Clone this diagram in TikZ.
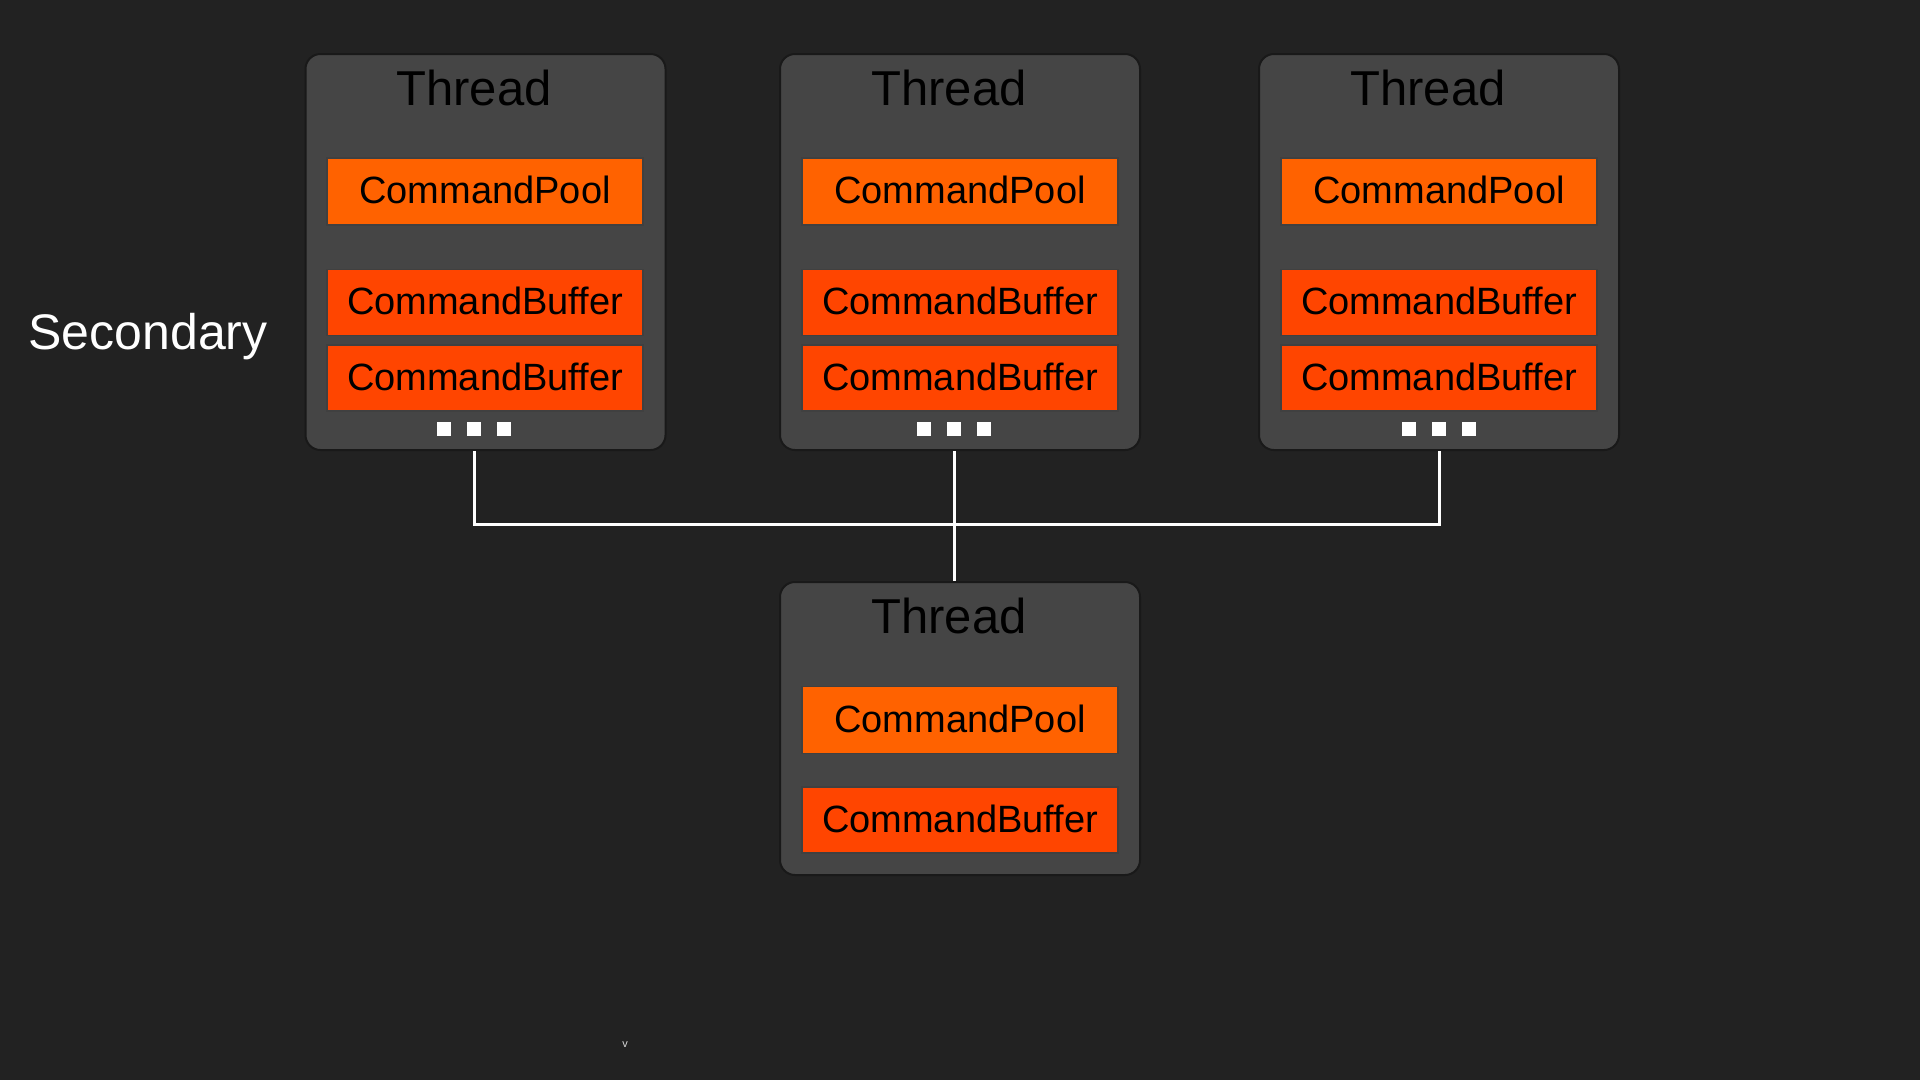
\documentclass[tikz,border=0pt]{standalone}
\usepackage{fontspec}
\setmainfont{Liberation Sans}
\begin{document}
\begin{tikzpicture}[x=1pt,y=-1pt,
  threadbox/.style={draw=black!90,line width=2pt,fill=threadgray,rounded corners=15pt,inner sep=0pt,minimum width=360pt},
  poolbox/.style={draw=black!75,line width=1.5pt,fill=poolorange,inner sep=0pt,minimum width=316pt,minimum height=67pt,font=\fontsize{38}{40}\selectfont,text=black,text depth=3pt},
  bufbox/.style={draw=black!75,line width=1.5pt,fill=buforange,inner sep=0pt,minimum width=316pt,minimum height=66pt,font=\fontsize{38}{40}\selectfont,text=black,text depth=3pt},
  titletext/.style={font=\fontsize{49}{52}\selectfont,text=black,anchor=base,inner sep=0pt},
  dotsq/.style={fill=white,inner sep=0pt,minimum size=14pt},
  conn/.style={draw=white,line width=3pt}]
\definecolor{bg}{HTML}{222222}
\definecolor{threadgray}{HTML}{454545}
\definecolor{poolorange}{HTML}{FF6200}
\definecolor{buforange}{HTML}{FF4500}
\fill[bg] (0,0) rectangle (1920,1080);
\useasboundingbox (0,0) rectangle (1920,1080);

% thread boxes
\node[threadbox,minimum height=396pt] (t1) at (485.5,252) {};
\node[threadbox,minimum height=396pt] (t2) at (960,252) {};
\node[threadbox,minimum height=396pt] (t3) at (1439,252) {};
\node[threadbox,minimum height=293pt] (t4) at (960,728.5) {};

\node[titletext] (h1) at (474,105) {Thread};
\node[titletext] (h2) at (949,105) {Thread};
\node[titletext] (h3) at (1428,105) {Thread};
\node[titletext] (h4) at (949,633) {Thread};

\node[poolbox] (p1) at (485,191.5) {CommandPool};
\node[bufbox] (b11) at (485,302.5) {CommandBuffer};
\node[bufbox] (b12) at (485,378) {CommandBuffer};

\node[poolbox] (p2) at (960,191.5) {CommandPool};
\node[bufbox] (b21) at (960,302.5) {CommandBuffer};
\node[bufbox] (b22) at (960,378) {CommandBuffer};

\node[poolbox] (p3) at (1439,191.5) {CommandPool};
\node[bufbox] (b31) at (1439,302.5) {CommandBuffer};
\node[bufbox] (b32) at (1439,378) {CommandBuffer};

\node[poolbox] (p4) at (960,720) {CommandPool};
\node[bufbox] (b41) at (960,820) {CommandBuffer};

% dots
\node[dotsq] (d1a) at (444,429) {};
\node[dotsq] (d1b) at (474,429) {};
\node[dotsq] (d1c) at (504,429) {};
\node[dotsq] (d2a) at (924,429) {};
\node[dotsq] (d2b) at (954,429) {};
\node[dotsq] (d2c) at (984,429) {};
\node[dotsq] (d3a) at (1409,429) {};
\node[dotsq] (d3b) at (1439,429) {};
\node[dotsq] (d3c) at (1469,429) {};

% connectors
\coordinate (j) at (954,524);
\draw[conn] (d1b |- t1.south) |- (j) -| (d3b |- t3.south);
\draw[conn] (d2b |- t2.south) -- (d2b |- t4.north);

\node[font=\fontsize{50}{54}\selectfont,text=white,anchor=base,inner sep=0pt] (sec) at (148,349) {Secondary};
\node[font=\fontsize{11}{12}\selectfont,text=white!85!black,inner sep=0pt] (v) at (625,1045) {v};
\end{tikzpicture}
\end{document}
